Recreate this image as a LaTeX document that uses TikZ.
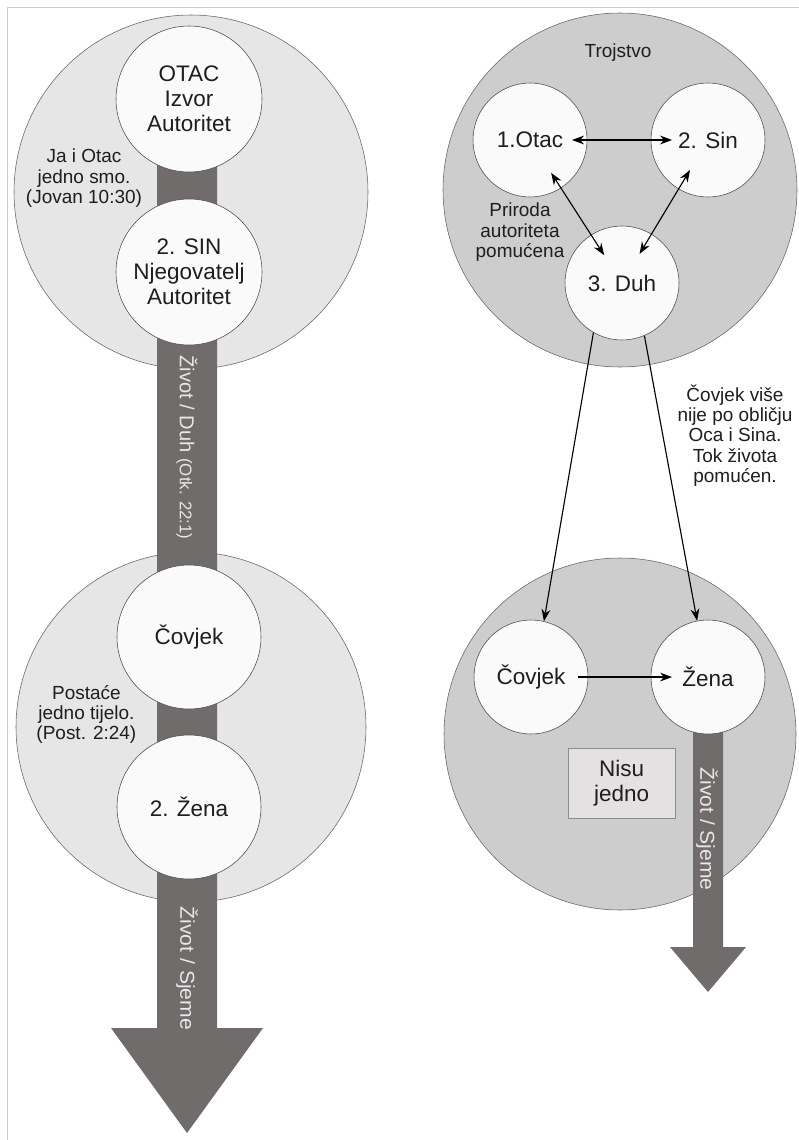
\documentclass[tikz,border=0pt]{standalone}
\usepackage{fontspec}
\setmainfont{Liberation Sans}
\usetikzlibrary{arrows.meta}
\definecolor{paledisc}{HTML}{E6E6E6}
\definecolor{greydisc}{HTML}{CDCDCD}
\definecolor{whitedisc}{HTML}{FAFAFA}
\definecolor{flow}{HTML}{706C6C}
\definecolor{flowtext}{HTML}{E8E8E8}
\definecolor{boxfill}{HTML}{E4E1E3}
\definecolor{ink}{HTML}{1E1E1E}
\begin{document}
\begin{tikzpicture}[scale=0.1]
\tikzstyle{every node}+=[inner sep=0pt, text=ink]
\tikzstyle{group}=[circle, draw=black!60, line width=0.4pt]
\tikzstyle{person}=[circle, draw=black!70, fill=whitedisc, line width=0.4pt, align=center, font=\fontsize{16}{17.8}\selectfont]
\tikzstyle{note}=[align=center, font=\fontsize{13.5}{14.5}\selectfont]
\tikzstyle{flowlabel}=[rotate=-90, text=flowtext, font=\fontsize{14.3}{16}\selectfont]
\tikzstyle{link}=[black, line width=0.8pt, {Stealth[length=3mm,width=2.2mm]}-{Stealth[length=3mm,width=2.2mm]}]
\tikzstyle{onelink}=[black, line width=0.8pt, -{Stealth[length=3mm,width=2.2mm]}]
\useasboundingbox (0,0) rectangle (199.75,-285);
\draw [black!20, line width=0.5pt] (1.75,-285) -- (1.75,-1.75) -- (199.75,-1.75);
\node [group, fill=paledisc, minimum size=88.5mm] (godhead) at (47.75,-48) {};
\node [group, fill=paledisc, minimum size=87.5mm] (oneflesh) at (47.75,-181.75) {};
\node [group, fill=greydisc, minimum size=88.5mm] (trinity) at (155,-47.5) {};
\node [group, fill=greydisc, minimum size=88mm] (couple) at (155,-183.5) {};
\fill [flow] (39.25,-25) -- (39.25,-257) -- (27.75,-257) -- (46.75,-283.25) -- (65.75,-257) -- (54.25,-257) -- (54.25,-25) -- cycle;
\fill [flow] (173.25,-172) -- (173.25,-236.75) -- (167.5,-236.75) -- (177,-248) -- (186.5,-236.75) -- (180.75,-236.75) -- (180.75,-172) -- cycle;
\node [flowlabel] (spiritflow) at (46.75,-111.9) {Život / Duh {\fontsize{12}{14}\selectfont (Otk. 22:1)}};
\node [flowlabel, xscale=1.05] (seedflow) at (46.75,-242.1) {Život / Sjeme};
\node [flowlabel, xscale=1.05] (seedflowR) at (176.75,-207.25) {Život / Sjeme};
\node [person, minimum size=36.5mm] (father) at (47.25,-24.75) {OTAC\\Izvor\\Autoritet};
\node [person, minimum size=36.5mm] (son) at (47.25,-68) {2. SIN\\Njegovatelj\\Autoritet};
\node [person, minimum size=36mm] (man) at (47.25,-159.25) {Čovjek};
\node [person, minimum size=36mm] (woman) at (47.25,-201.75) {2. Žena};
\node [note] (onenote) at (21,-44.6) {Ja i Otac\\jedno smo.\\(Jovan 10:30)};
\node [note] (fleshnote) at (21.6,-178.6) {Postaće\\jedno tijelo.\\(Post. 2:24)};
\node [note] (trinitylabel) at (154.5,-13.1) {Trojstvo};
\node [person, minimum size=28.5mm] (fatherR) at (132.5,-35) {1.Otac};
\node [person, minimum size=28.5mm] (sonR) at (177,-35) {2. Sin};
\node [person, minimum size=28.5mm] (spirit) at (155.5,-70.75) {3. Duh};
\node [note] (naturenote) at (130,-58.1) {Priroda\\autoriteta\\pomućena};
\node [person, minimum size=28.5mm] (manR) at (132.75,-169.25) {Čovjek};
\node [person, minimum size=28.5mm] (womanR) at (177,-169.25) {Žena};
\node [note] (imagenote) at (183.75,-108.9) {Čovjek više\\nije po obličju\\Oca i Sina.\\Tok života\\pomućen.};
\node [draw=black!45, fill=boxfill, line width=0.4pt, minimum width=26.75mm, minimum height=17.5mm, align=center, font=\fontsize{16}{17.8}\selectfont] (apart) at (155.4,-195.75) {Nisu\\jedno};
\draw [link, shorten <=10.5mm, shorten >=9mm] (fatherR.center) -- (sonR.center);
\draw [link, shorten <=9.75mm, shorten >=8.25mm] (fatherR.center) -- (spirit.center);
\draw [link, shorten <=8.75mm, shorten >=8.5mm] (sonR.center) -- (spirit.center);
\draw [onelink] (spirit.240) -- (manR.77);
\draw [onelink] (spirit.293) -- (womanR.101);
\draw [onelink, shorten <=11.75mm, shorten >=9mm] (manR.center) -- (womanR.center);
\end{tikzpicture}
\end{document}
